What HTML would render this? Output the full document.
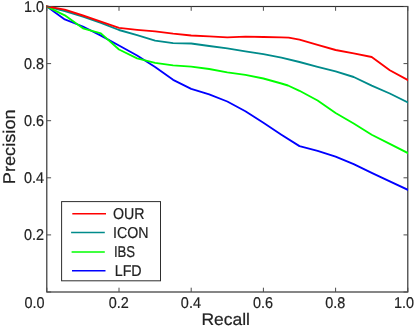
<!DOCTYPE html>
<html><head><meta charset="utf-8"><style>html,body{margin:0;padding:0;background:#fff}svg{display:block;will-change:transform;transform:translateZ(0)}text{text-rendering:geometricPrecision;font-family:"Liberation Sans",sans-serif;fill:#222}</style></head><body>
<svg width="415" height="328" viewBox="0 0 415 328">
<rect width="415" height="328" fill="#fff"/>
<clipPath id="c"><rect x="46.00" y="5.00" width="362.00" height="287.50"/></clipPath>
<rect x="46.8" y="6.5" width="361.0" height="285.5" fill="none" stroke="#2e2e2e" stroke-width="1.15"/>
<g fill="none" stroke-width="1.85" stroke-linejoin="round" stroke-linecap="square" clip-path="url(#c)">
<polyline stroke="#0000ff" points="46.8,6.5 64.8,19.4 82.9,26.5 100.9,35.6 119.0,45.5 137.1,55.5 155.1,67.0 173.1,79.8 191.2,88.9 209.2,94.3 227.3,101.5 245.4,111.2 263.4,122.8 281.4,134.7 299.5,146.1 317.6,150.8 335.6,156.6 353.7,164.1 371.7,172.8 389.8,181.4 407.8,189.8"/>
<polyline stroke="#008b8b" points="46.8,6.5 64.8,11.0 82.9,16.6 100.9,22.8 119.0,30.0 137.1,35.2 155.1,40.6 173.1,43.1 191.2,43.5 209.2,46.0 227.3,48.3 245.4,51.4 263.4,54.2 281.4,57.6 299.5,62.0 317.6,66.8 335.6,71.4 353.7,77.0 371.7,85.7 389.8,93.5 407.8,102.4"/>
<polyline stroke="#00ff00" points="46.8,6.5 64.8,15.3 82.9,28.3 100.9,33.4 119.0,49.5 137.1,58.4 155.1,62.8 173.1,65.4 191.2,66.7 209.2,69.0 227.3,72.3 245.4,74.9 263.4,78.5 281.4,83.5 288.0,85.5 299.5,90.8 317.6,100.5 335.6,113.0 353.7,123.5 371.7,134.7 389.8,143.9 407.8,153.0"/>
<polyline stroke="#ff0000" points="46.8,6.5 64.8,9.7 82.9,15.5 100.9,21.7 119.0,27.8 137.1,29.8 155.1,31.4 173.1,33.7 191.2,35.5 209.2,36.4 227.3,37.3 245.4,36.6 263.4,37.0 281.4,37.3 288.7,37.6 299.5,39.7 317.6,44.9 335.6,50.0 353.7,53.4 371.7,57.0 389.8,70.2 407.8,80.0"/>
</g>
<path d="M46.80,292.0v-4.3M46.80,6.5v4.3M46.8,292.00h4.3M407.8,292.00h-4.3M119.00,292.0v-4.3M119.00,6.5v4.3M46.8,234.90h4.3M407.8,234.90h-4.3M191.20,292.0v-4.3M191.20,6.5v4.3M46.8,177.80h4.3M407.8,177.80h-4.3M263.40,292.0v-4.3M263.40,6.5v4.3M46.8,120.70h4.3M407.8,120.70h-4.3M335.60,292.0v-4.3M335.60,6.5v4.3M46.8,63.60h4.3M407.8,63.60h-4.3M407.80,292.0v-4.3M407.80,6.5v4.3M46.8,6.50h4.3M407.8,6.50h-4.3" stroke="#4c4c4c" stroke-width="1" fill="none"/>
<text transform="translate(44.60,307.90) scale(0.925,1)" font-size="15.6" text-anchor="end" stroke="#222" stroke-width="0.2">0.0</text>
<text transform="translate(118.70,307.90) scale(0.925,1)" font-size="15.6" text-anchor="middle" stroke="#222" stroke-width="0.2">0.2</text>
<text transform="translate(44.10,240.10) scale(0.925,1)" font-size="15.6" text-anchor="end" stroke="#222" stroke-width="0.2">0.2</text>
<text transform="translate(190.90,307.90) scale(0.925,1)" font-size="15.6" text-anchor="middle" stroke="#222" stroke-width="0.2">0.4</text>
<text transform="translate(44.10,183.00) scale(0.925,1)" font-size="15.6" text-anchor="end" stroke="#222" stroke-width="0.2">0.4</text>
<text transform="translate(263.10,307.90) scale(0.925,1)" font-size="15.6" text-anchor="middle" stroke="#222" stroke-width="0.2">0.6</text>
<text transform="translate(44.10,125.90) scale(0.925,1)" font-size="15.6" text-anchor="end" stroke="#222" stroke-width="0.2">0.6</text>
<text transform="translate(335.30,307.90) scale(0.925,1)" font-size="15.6" text-anchor="middle" stroke="#222" stroke-width="0.2">0.8</text>
<text transform="translate(44.10,68.80) scale(0.925,1)" font-size="15.6" text-anchor="end" stroke="#222" stroke-width="0.2">0.8</text>
<text transform="translate(414.10,307.90) scale(0.925,1)" font-size="15.6" text-anchor="end" stroke="#222" stroke-width="0.2">1.0</text>
<text transform="translate(44.10,11.70) scale(0.925,1)" font-size="15.6" text-anchor="end" stroke="#222" stroke-width="0.2">1.0</text>
<text transform="translate(225.70,324.95) scale(1.035,1)" font-size="16.9" text-anchor="middle" stroke="#222" stroke-width="0.2">Recall</text>
<text transform="translate(14.90,146.80) rotate(-90) scale(1.07,1)" font-size="17.0" text-anchor="middle" stroke="#222" stroke-width="0.2">Precision</text>
<rect x="61.6" y="201.6" width="98.9" height="79.2" fill="#fff" stroke="#2e2e2e" stroke-width="1"/>
<line x1="72.3" y1="213.7" x2="106.0" y2="213.7" stroke="#ff0000" stroke-width="1.6"/>
<text transform="translate(113.00,218.90) scale(0.905,1)" font-size="15.7" text-anchor="start" stroke="#222" stroke-width="0.2">OUR</text>
<line x1="71.1" y1="232.5" x2="104.8" y2="232.5" stroke="#008b8b" stroke-width="1.6"/>
<text transform="translate(113.00,237.95) scale(0.905,1)" font-size="15.7" text-anchor="start" stroke="#222" stroke-width="0.2">ICON</text>
<line x1="71.6" y1="252.0" x2="104.8" y2="252.0" stroke="#00ff00" stroke-width="1.6"/>
<text transform="translate(113.90,257.40) scale(0.84,1)" font-size="15.7" text-anchor="start" stroke="#222" stroke-width="0.2">IBS</text>
<line x1="72.0" y1="270.8" x2="105.5" y2="270.8" stroke="#0000ff" stroke-width="1.6"/>
<text transform="translate(114.70,276.05) scale(0.91,1)" font-size="15.7" text-anchor="start" stroke="#222" stroke-width="0.2">LFD</text>
</svg></body></html>
